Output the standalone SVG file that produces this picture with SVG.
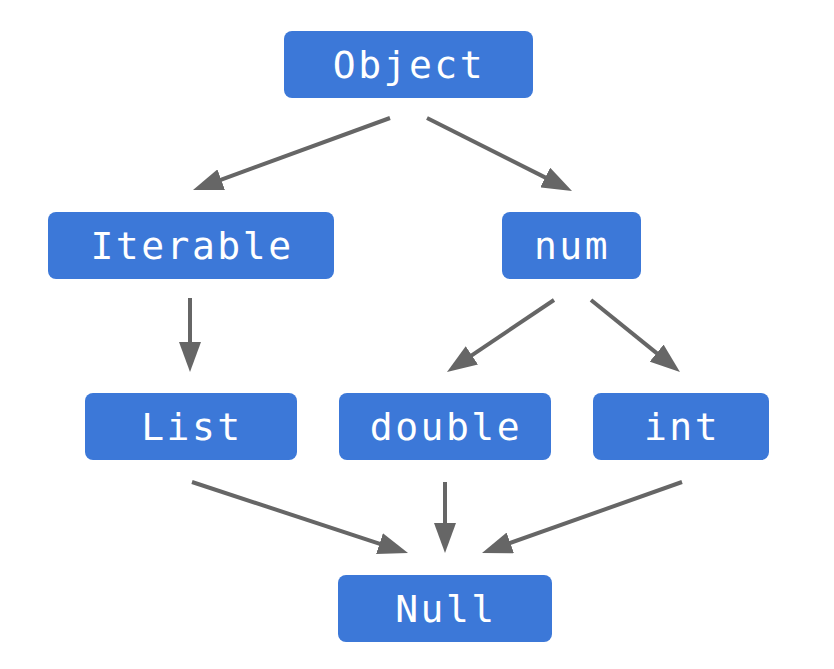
<svg xmlns="http://www.w3.org/2000/svg" width="834" height="669" viewBox="0 0 834 669">
<style>
.box{fill:#3c78d8;}
.lbl{fill:#ffffff;font-family:"DejaVu Sans Mono","Liberation Mono",monospace;font-size:38px;letter-spacing:2.5px;text-anchor:middle;}
.edge{stroke:#666666;stroke-width:4;fill:none;marker-end:url(#ah);}
</style>
<defs>
<marker id="ah" markerUnits="userSpaceOnUse" markerWidth="30" markerHeight="22" viewBox="0 0 30 22" refX="2" refY="11" orient="auto">
<path d="M0,0 L30,11 L0,22 z" fill="#666666"/>
</marker>
</defs>
<rect width="834" height="669" fill="#ffffff"/>
<g id="connectors">
<path class="edge" d="M390,118 L219.3,180.4"/>
<path class="edge" d="M427,118 L547,178.4"/>
<path class="edge" d="M190,298 L190,344"/>
<path class="edge" d="M554,300 L470.2,356.4"/>
<path class="edge" d="M591,300 L658.2,354.4"/>
<path class="edge" d="M192,482 L381.4,544.3"/>
<path class="edge" d="M445,482 L445,525"/>
<path class="edge" d="M682,482 L508.4,543.6"/>
</g>
<g id="node-object"><rect class="box" x="284" y="31" width="249" height="67" rx="8"/><text class="lbl" x="409" y="78">Object</text></g>
<g id="node-iterable"><rect class="box" x="48" y="212" width="286" height="67" rx="8"/><text class="lbl" x="192" y="259">Iterable</text></g>
<g id="node-num"><rect class="box" x="502" y="212" width="139" height="67" rx="8"/><text class="lbl" x="572" y="259">num</text></g>
<g id="node-list"><rect class="box" x="85" y="393" width="212" height="67" rx="8"/><text class="lbl" x="192" y="440">List</text></g>
<g id="node-double"><rect class="box" x="339" y="393" width="212" height="67" rx="8"/><text class="lbl" x="446" y="440">double</text></g>
<g id="node-int"><rect class="box" x="593" y="393" width="176" height="67" rx="8"/><text class="lbl" x="682" y="440">int</text></g>
<g id="node-null"><rect class="box" x="338" y="575" width="214" height="67" rx="8"/><text class="lbl" x="446" y="622">Null</text></g>
</svg>
